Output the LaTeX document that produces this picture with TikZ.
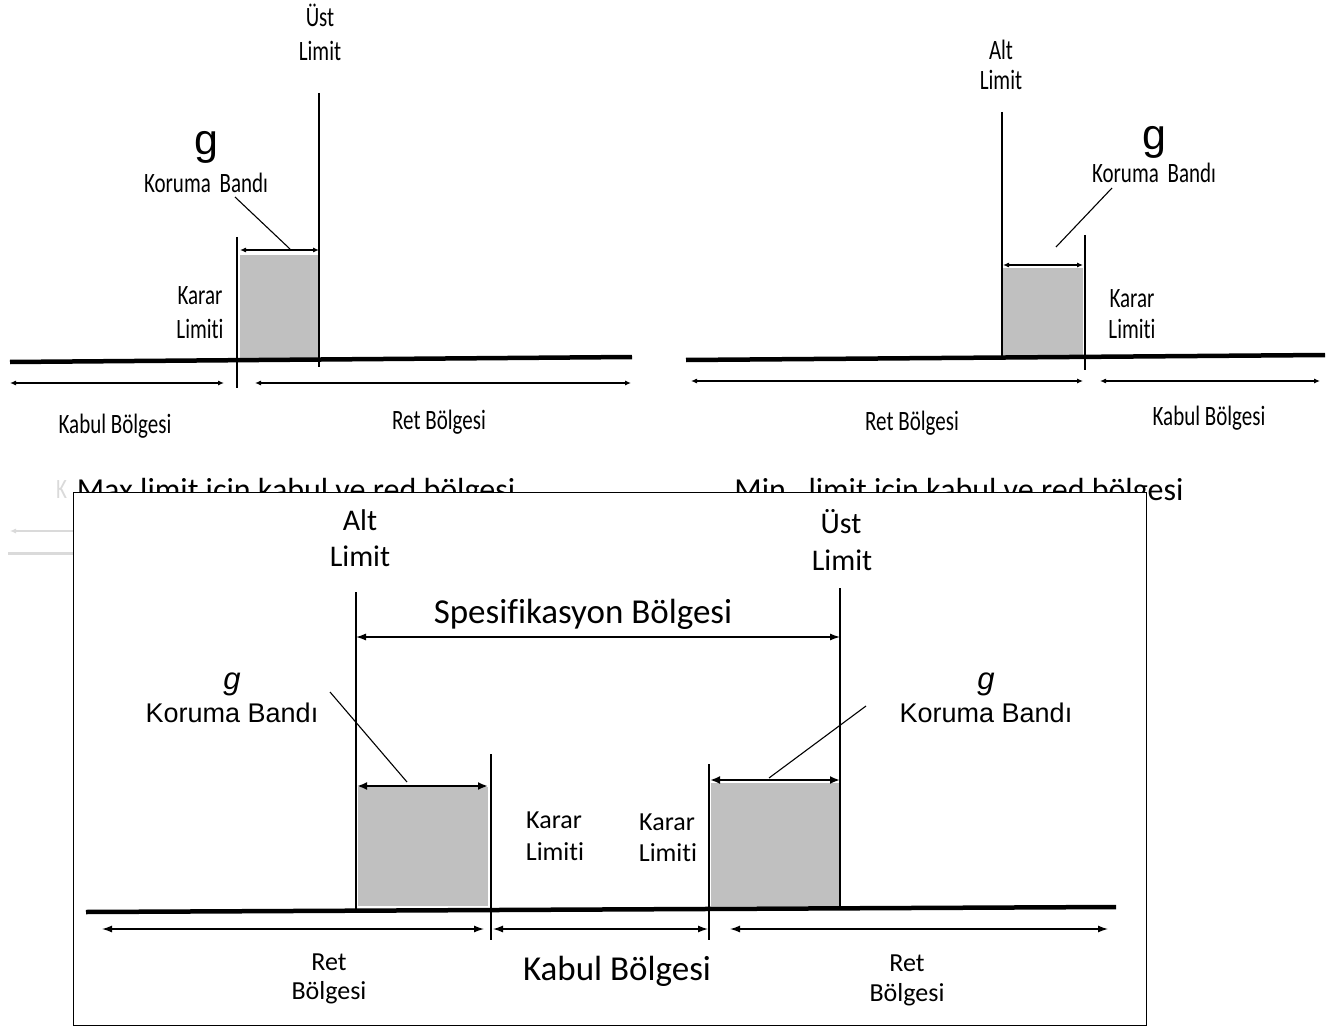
\documentclass[tikz,border=0pt]{standalone}
\usepackage{fontspec}
\setmainfont{Carlito}[Ligatures=NoCommon]
\newfontfamily\narrowfont[FakeStretch=0.75,Ligatures=NoCommon]{Carlito}
\newfontfamily\arialfont{Liberation Sans}
\usetikzlibrary{arrows.meta}
\definecolor{bandgray}{RGB}{192,192,192}
\definecolor{ghost}{RGB}{218,218,218}
\begin{document}
\begin{tikzpicture}[x=1pt,y=-1pt,
  every node/.style={inner sep=0pt, outer sep=0pt, anchor=base},
  tl/.style={font=\narrowfont\fontsize{28}{30}\selectfont},
  tg/.style={font=\arialfont\fontsize{43}{45}\selectfont},
  captext/.style={font=\fontsize{32}{34}\selectfont},
  bl/.style={font=\fontsize{26}{28}\selectfont},
  bll/.style={font=\fontsize{30}{32}\selectfont},
  bxl/.style={font=\fontsize{35}{37}\selectfont},
  bar/.style={font=\arialfont\fontsize{27}{29}\selectfont},
  bgi/.style={font=\arialfont\itshape\fontsize{31}{33}\selectfont},
  thinl/.style={line width=1.1pt},
  axisl/.style={line width=4.5pt},
  dimsmall/.style={line width=1.1pt, {Latex[length=6pt,width=5pt]}-{Latex[length=6pt,width=5pt]}},
  dimbig/.style={line width=1.3pt, {Latex[length=10pt,width=7pt]}-{Latex[length=10pt,width=7pt]}},
  bandarrow/.style={line width=2pt, {Latex[length=10pt,width=8pt]}-{Latex[length=10pt,width=8pt]}},
]
\useasboundingbox (0,0) rectangle (1334,1027);
\fill[white] (0,0) rectangle (1334,1027);

% ---------- top-left panel ----------
\fill[bandgray] (240,255) rectangle (318,359);
\draw[axisl] (10,362) -- (632,357);
\draw[thinl] (319,93) -- (319,367);
\draw[thinl] (237,237) -- (237,388);
\draw[dimsmall] (240,250) -- (319,250);
\draw[thinl] (235,197) -- (290,249);
\draw[dimsmall] (10,383) -- (224,383);
\draw[dimsmall] (255,383) -- (631,383);
\node[tl] (tlUst) at (320,27) {Üst};
\node[tl] (tlLim) at (320,61) {Limit};
\node[tg] (tlg) at (206,155) {g};
\node[tl] (tlKor) at (206,193) {Koruma\hspace{4pt} Bandı};
\node[tl] (tlKar) at (200,305) {Karar};
\node[tl] (tlLimiti) at (200,338) {Limiti};
\node[tl] (tlKabul) at (115,433) {Kabul Bölgesi};
\node[tl] (tlRet) at (439,429) {Ret Bölgesi};

% ---------- top-right panel ----------
\fill[bandgray] (1003,268) rectangle (1083,357);
\draw[axisl] (686,360) -- (1325,355);
\draw[thinl] (1002,112) -- (1002,358);
\draw[thinl] (1085,235) -- (1085,370);
\draw[dimsmall] (1003,265) -- (1083,265);
\draw[thinl] (1112,188) -- (1056,247);
\draw[dimsmall] (691,381) -- (1083,381);
\draw[dimsmall] (1100,381) -- (1320,381);
\node[tl] (trAlt) at (1001,60) {Alt};
\node[tl] (trLim) at (1001,90) {Limit};
\node[tg] (trg) at (1154,150) {g};
\node[tl] (trKor) at (1154,183) {Koruma\hspace{4pt} Bandı};
\node[tl] (trKar) at (1132,308) {Karar};
\node[tl] (trLimiti) at (1132,338) {Limiti};
\node[tl] (trRet) at (912,430) {Ret Bölgesi};
\node[tl] (trKabul) at (1209,425) {Kabul Bölgesi};

% ---------- ghost remnants and captions ----------
\node[tl, text=ghost, anchor=base west] (ghostK) at (56,498) {K};
\draw[ghost, dimsmall, {Latex[length=6pt,width=5pt]}-] (10,531) -- (73,531);
\draw[ghost, line width=3pt] (8,553) -- (73,553);
\node[captext] (capMax) at (296,500) {Max limit icin kabul ve red bölgesi};
\node[captext] (capMin) at (959,500) {Min.\ \ limit icin kabul ve red bölgesi};

% ---------- bottom panel ----------
\draw[line width=1pt, fill=white] (73,492) rectangle (1146,1025);
\fill[bandgray] (358,787) rectangle (488,906);
\fill[bandgray] (711,783) rectangle (840,906);
\draw[axisl] (86,912) -- (1116,907);
\draw[thinl] (356,592) -- (356,913);
\draw[thinl] (840,588) -- (840,908);
\draw[thinl] (491,754) -- (491,940);
\draw[thinl] (709,764) -- (709,940);
\draw[dimbig] (356,637) -- (840,637);
\draw[bandarrow] (357,786) -- (488,786);
\draw[bandarrow] (710,780) -- (840,780);
\draw[thinl] (330,692) -- (407,782);
\draw[thinl] (866,706) -- (769,778);
\draw[dimbig] (102,929) -- (484,929);
\draw[dimbig] (493,929) -- (708,929);
\draw[dimbig] (730,929) -- (1108,929);
\node[bll] (bAlt) at (360,530) {Alt};
\node[bll] (bAltLim) at (360,566) {Limit};
\node[bll] (bUst) at (841,533) {Üst};
\node[bll] (bUstLim) at (842,570) {Limit};
\node[bxl] (bSpec) at (583,623) {Spesifikasyon Bölgesi};
\node[bgi] (bgL) at (232,689) {g};
\node[bar] (bKorL) at (232,722) {Koruma Bandı};
\node[bgi] (bgR) at (986,689) {g};
\node[bar] (bKorR) at (986,722) {Koruma Bandı};
\node[bl] (bKarL) at (554,828) {Karar};
\node[bl] (bLimL) at (555,860) {Limiti};
\node[bl] (bKarR) at (667,830) {Karar};
\node[bl] (bLimR) at (668,861) {Limiti};
\node[bl] (bRetL) at (329,970) {Ret};
\node[bl] (bBolL) at (329,999) {Bölgesi};
\node[bxl] (bKabul) at (617,980) {Kabul Bölgesi};
\node[bl] (bRetR) at (907,971) {Ret};
\node[bl] (bBolR) at (907,1001) {Bölgesi};
\end{tikzpicture}
\end{document}
